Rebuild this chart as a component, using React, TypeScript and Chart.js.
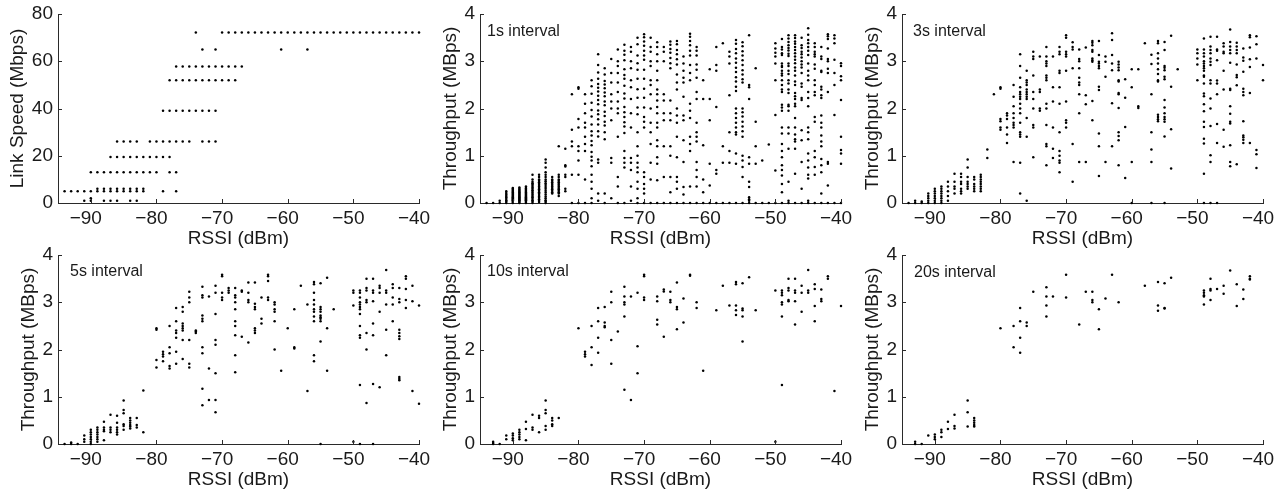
import React, { useEffect, useRef } from "react";
import { Chart, registerables } from "chart.js";

Chart.register(...registerables);

type Col = [number, number[]];

// ---------- tick labels ----------
const xTicks = [-90, -80, -70, -60, -50, -40];
const linkTicks = [0, 20, 40, 60, 80];
const tputTicks = [0, 1, 2, 3, 4];

// ---------- Link speed (Mbps): [rate, RSSI values] ----------
const linkSpeedRows: Col[] = [
  [72.2, [-74, -70, -69, -68, -67, -66, -65, -64, -63, -62, -61, -60, -59, -58, -57, -56, -55, -54, -53, -52, -51, -50, -49, -48, -47, -46, -45, -44, -43, -42, -41, -40]],
  [65, [-73, -71, -61, -57]],
  [57.8, [-77, -76, -75, -74, -73, -72, -71, -70, -69, -68, -67]],
  [52, [-78, -77, -76, -75, -74, -73, -72, -71, -70, -69, -68]],
  [39, [-79, -78, -77, -76, -75, -74, -73, -72, -71]],
  [26, [-86, -85, -84, -83, -81, -80, -79, -78, -77, -76, -75, -73, -72, -71]],
  [19.5, [-87, -86, -85, -84, -83, -82, -81, -80, -79, -78]],
  [13, [-90, -89, -88, -87, -86, -85, -84, -83, -82, -81, -80, -78, -77]],
  [6, [-89, -88, -87, -86, -85, -84, -83, -82]],
  [5, [-94, -93, -92, -91, -90, -89, -88, -87, -86, -85, -84, -83, -82, -79, -77]],
  [2, [-90]],
  [1, [-91, -90, -88, -87, -86, -84, -83]],
];

// ---------- Throughput (MBps), 1 s interval: [RSSI, values] ----------
const tput1s: Col[] = [
  [-94, [0]],
  [-93, [0]],
  [-92, [0, 0.05]],
  [-91, [0, 0.03, 0.06, 0.09, 0.12, 0.15, 0.18, 0.21, 0.25]],
  [-90, [0, 0.02, 0.04, 0.06, 0.08, 0.1, 0.12, 0.14, 0.16, 0.18, 0.2, 0.22, 0.24, 0.26, 0.28, 0.3, 0.32]],
  [-89, [0, 0.02, 0.04, 0.06, 0.08, 0.1, 0.12, 0.14, 0.16, 0.18, 0.2, 0.22, 0.24, 0.26, 0.28, 0.3, 0.33]],
  [-88, [0, 0.02, 0.04, 0.06, 0.08, 0.1, 0.12, 0.14, 0.16, 0.18, 0.2, 0.22, 0.24, 0.26, 0.28, 0.3, 0.32, 0.35]],
  [-87, [0, 0.03, 0.06, 0.09, 0.12, 0.15, 0.18, 0.21, 0.24, 0.27, 0.3, 0.33, 0.36, 0.39, 0.42, 0.45, 0.5, 0.6]],
  [-86, [0.02, 0.05, 0.08, 0.11, 0.14, 0.17, 0.2, 0.23, 0.26, 0.29, 0.32, 0.35, 0.38, 0.41, 0.44, 0.47, 0.5, 0.55, 0.6]],
  [-85, [0, 0.03, 0.06, 0.1, 0.14, 0.18, 0.22, 0.26, 0.3, 0.34, 0.38, 0.42, 0.46, 0.5, 0.55, 0.6, 0.65, 0.75, 0.85, 0.92]],
  [-84, [0.2, 0.23, 0.26, 0.29, 0.32, 0.35, 0.38, 0.41, 0.44, 0.47, 0.5, 0.55]],
  [-83, [0.15, 0.2, 0.23, 0.26, 0.29, 0.32, 0.35, 0.38, 0.41, 0.44, 0.47, 0.5, 0.55, 0.6, 1.2]],
  [-82, [1.15, 0.8, 0.77, 0.6, 0.55, 0.3, 0.25]],
  [-81, [2.3, 1.55, 1.3, 1.2, 0.6, 0]],
  [-80, [2.45, 2.42, 1.78, 1.6, 1.2, 1.1, 0.9, 0.6, 0]],
  [-79, [2.3, 2.1, 1.9, 1.7, 1.6, 1.4, 1.25, 1.1, 0.5, 0]],
  [-78, [2.6, 2.47, 2.31, 2.12, 1.97, 1.83, 1.66, 1.52, 1.43, 1.31, 1.22, 1.08, 0.98, 0.9, 0.78, 0.6, 0.45, 0.3, 0.1, 0]],
  [-77, [3.15, 2.92, 2.76, 2.63, 2.52, 2.44, 2.36, 2.27, 2.18, 2.09, 1.96, 1.88, 1.77, 1.66, 1.52, 1.41, 0.92, 0.85, 0.2, 0.05]],
  [-76, [2.85, 2.72, 2.58, 2.51, 2.43, 2.34, 2.26, 2.15, 2.07, 1.93, 1.84, 1.72, 1.64, 1.5, 1.35, 0.2, 0]],
  [-75, [3.05, 2.75, 2.55, 2.3, 2.15, 2.0, 1.75, 0.95, 0.85, 0.1]],
  [-74, [3.25, 3.0, 2.9, 2.75, 2.55, 2.35, 2.15, 2.0, 1.9, 1.4, 0.55, 0.35, 0]],
  [-73, [3.35, 3.22, 3.14, 3.02, 2.83, 2.71, 2.63, 2.48, 2.32, 2.21, 2.03, 1.92, 1.82, 1.71, 1.62, 1.48, 1.1, 0.95, 0.85, 0.75, 0]],
  [-72, [3.3, 3.2, 3.0, 2.85, 2.6, 2.45, 2.2, 1.9, 1.6, 0.95, 0.85, 0.7, 0.35, 0.05]],
  [-71, [3.5, 3.36, 3.12, 2.96, 2.82, 2.63, 2.41, 2.23, 2.02, 1.88, 1.5, 1.2, 1.0, 0.85, 0.75, 0.65, 0.45, 0.3, 0.1, 0]],
  [-70, [3.57, 3.51, 3.42, 3.33, 3.22, 3.12, 3.03, 2.82, 2.63, 2.42, 2.23, 2.02, 1.82, 1.72, 1.6, 0.65, 0.55, 0.4, 0.3, 0.2, 0]],
  [-69, [3.5, 3.3, 3.2, 3.0, 2.9, 2.6, 2.5, 2.3, 2.0, 1.7, 1.5, 1.25, 0.85, 0.5, 0]],
  [-68, [3.4, 3.3, 3.15, 3.0, 2.8, 2.6, 2.4, 2.3, 2.17, 2.03, 1.9, 1.7, 1.6, 1.33, 1.2, 0.97, 0.83, 0.48, 0]],
  [-67, [3.3, 3.2, 3.0, 2.3, 2.17, 1.9, 1.75, 1.2, 0.55, 0]],
  [-66, [3.42, 3.35, 3.26, 3.18, 3.07, 2.96, 2.85, 2.17, 1.9, 1.75, 1.2, 1.0, 0.55, 0.23, 0]],
  [-65, [3.43, 3.36, 3.24, 3.15, 3.04, 2.93, 2.72, 2.55, 2.4, 2.0, 1.85, 1.7, 1.4, 0.97, 0.55, 0.45, 0.3, 0]],
  [-64, [3.1, 2.95, 2.8, 2.65, 2.55, 2.25, 1.85, 1.75, 1.33, 0.87, 0.34, 0.18, 0]],
  [-63, [3.58, 3.52, 3.43, 3.34, 3.22, 3.12, 2.92, 2.75, 2.6, 2.1, 1.95, 1.8, 1.4, 1.25, 1.1, 0.35, 0]],
  [-62, [3.3, 3.22, 3.12, 2.93, 2.82, 2.65, 2.35, 2.2, 1.7, 1.5, 1.4, 1.3, 0.87, 0.7, 0.55, 0.35, 0]],
  [-61, [2.6, 2.2, 1.22, 0.5, 0.23, 0]],
  [-60, [2.83, 2.2, 1.75, 0.83, 0.37, 0]],
  [-59, [3.3, 2.92, 2.8, 2.03, 0.7, 0.62, 0]],
  [-58, [3.38, 1.2, 0.85, 0]],
  [-57, [3.2, 3.1, 2.95, 2.28, 1.5, 1.1, 0.85, 0]],
  [-56, [3.45, 3.37, 3.26, 3.17, 3.06, 2.97, 2.86, 2.77, 2.66, 2.57, 2.46, 2.37, 2.0, 1.9, 1.8, 1.7, 1.6, 1.5, 1.45, 1.05, 0.83, 0]],
  [-55, [3.4, 3.32, 3.21, 3.12, 3.02, 2.92, 2.81, 2.72, 2.62, 2.55, 2.0, 1.92, 1.83, 1.72, 1.62, 1.52, 1.4, 1.0, 0.9, 0.76, 0.55, 0]],
  [-54, [3.55, 2.5, 2.45, 2.2, 0.97, 0.83, 0.45, 0.34, 0.12, 0.08, 0.05, 0]],
  [-53, [2.85, 1.72, 1.2, 0.83, 0]],
  [-52, [0.9, 0]],
  [-51, [1.24, 0]],
  [-50, [3.38, 3.27, 3.18, 3.1, 2.95, 2.6, 1.86, 0.69, 0]],
  [-49, [3.47, 3.3, 3.25, 3.17, 3.13, 2.95, 2.9, 2.88, 2.8, 2.74, 2.7, 2.6, 2.5, 2.4, 2.35, 2.08, 2.02, 1.95, 1.6, 1.47, 1.25, 1.1, 0.97, 0.8, 0.7, 0.58, 0.4, 0.23, 0]],
  [-48, [3.55, 3.48, 3.41, 3.34, 3.28, 3.23, 3.16, 3.11, 2.95, 2.9, 2.8, 2.73, 2.6, 2.53, 2.4, 2.33, 2.08, 2.05, 1.95, 1.6, 1.47, 1.15, 0.45, 0.05, 0]],
  [-47, [3.55, 3.49, 3.42, 3.37, 3.3, 3.24, 3.17, 3.1, 3.03, 2.96, 2.87, 2.8, 2.7, 2.57, 2.5, 2.33, 2.26, 2.2, 2.1, 2.05, 1.8, 1.6, 1.45, 1.35, 1.3, 1.15, 0.62, 0]],
  [-46, [3.5, 3.34, 3.28, 3.2, 3.15, 3.08, 3.0, 2.93, 2.87, 2.75, 2.53, 2.46, 2.22, 2.18, 1.54, 1.33, 0.87, 0.3, 0]],
  [-45, [3.7, 3.56, 3.45, 3.38, 3.3, 3.22, 3.13, 2.95, 2.8, 2.7, 2.6, 2.35, 2.22, 2.05, 1.6, 1.5, 1.35, 1.05, 0.9, 0.75, 0.6, 0.52, 0.05, 0]],
  [-44, [3.38, 3.3, 3.2, 3.15, 3.1, 2.93, 2.84, 2.6, 2.5, 2.35, 2.28, 1.82, 1.72, 1.1, 0.97, 0.76, 0.6, 0]],
  [-43, [3.3, 3.1, 3.05, 2.8, 2.77, 2.46, 2.4, 2.28, 2.22, 1.85, 1.7, 1.6, 1.43, 1.3, 1.2, 0.93, 0.8, 0.65, 0.2, 0]],
  [-42, [3.57, 3.53, 3.47, 3.27, 3.05, 3.0, 2.84, 2.75, 2.35, 0.87, 0.83, 0.37, 0]],
  [-41, [3.55, 3.48, 3.38, 3.03, 2.75, 2.5, 1.86, 0]],
  [-40, [2.96, 2.9, 2.68, 2.6, 2.18, 1.4, 1.12, 1.05, 0.83, 0]],
];

// ---------- 3 s interval ----------
const tput3s: Col[] = [
  [-94, [0]],
  [-93, [0, 0.05]],
  [-92, [0, 0.03]],
  [-91, [0.2, 0.15, 0.1, 0.05, 0]],
  [-90, [0.3, 0.25, 0.2, 0.15, 0.1, 0.05, 0]],
  [-89, [0.35, 0.3, 0.25, 0.2, 0.15, 0.1, 0.05, 0]],
  [-88, [0.45, 0.35, 0.25, 0.15, 0.05]],
  [-87, [0.62, 0.45, 0.35, 0.3, 0.2]],
  [-86, [0.62, 0.55, 0.45, 0.4, 0.3, 0.25, 0.2]],
  [-85, [0.92, 0.75, 0.55, 0.45, 0.4, 0.35, 0.3]],
  [-84, [0.55, 0.5, 0.4, 0.35, 0.3, 0.25]],
  [-83, [0.6, 0.55, 0.5, 0.45, 0.4, 0.35, 0.3, 0.25]],
  [-82, [1.13, 0.95]],
  [-81, [2.3]],
  [-80, [2.45, 2.42, 1.78, 1.73, 1.6, 1.55]],
  [-79, [1.9, 1.85, 1.78, 1.6, 1.45, 1.27]],
  [-78, [2.5, 2.25, 2.05, 1.9, 1.8, 1.7, 1.65, 1.6, 0.87]],
  [-77, [3.15, 2.9, 2.65, 2.45, 2.35, 2.3, 2.25, 2.2, 2.1, 2.0, 1.9, 1.7, 1.5, 1.45, 1.4, 0.85, 0.2]],
  [-76, [2.8, 2.6, 2.55, 2.5, 2.4, 2.35, 2.3, 2.25, 2.2, 1.8, 1.4, 0.05]],
  [-75, [3.2, 3.1, 3.05, 2.7, 2.35, 2.2, 2.0, 1.65, 1.6, 0.97]],
  [-74, [3.1, 2.4, 2.35, 2.0, 1.95]],
  [-73, [3.3, 3.1, 3.0, 2.95, 2.9, 2.7, 2.65, 2.6, 2.1, 2.0, 1.65, 1.25, 1.2, 0.8]],
  [-72, [3.1, 2.45, 2.15, 1.6, 1.15, 0.95]],
  [-71, [3.3, 3.2, 3.15, 2.8, 2.75, 2.45, 2.1, 1.5, 1.1, 1.0, 0.9, 0.85, 0.65]],
  [-70, [3.55, 3.5, 3.2, 3.15, 3.1, 2.8, 2.15, 1.75, 1.7, 1.6]],
  [-69, [3.4, 3.3, 3.25, 2.85, 1.25, 0.45]],
  [-68, [3.25, 3.05, 3.0, 2.85, 2.65, 2.55, 2.5, 2.3, 1.9, 0.87]],
  [-67, [3.29, 2.28, 2.09, 0.87]],
  [-66, [3.43, 3.39, 3.34, 3.24, 3.2, 3.06, 3.02, 2.99, 2.16, 1.75]],
  [-65, [3.43, 3.13, 2.99, 2.95, 2.9, 2.85, 2.46, 2.39, 1.47, 1.2, 0.57]],
  [-64, [3.1, 2.99, 2.67, 0.87]],
  [-63, [3.59, 3.45, 3.13, 2.95, 2.81, 2.11, 1.2]],
  [-62, [2.99, 2.93, 2.87, 2.81, 2.6, 2.57, 2.33, 2.3, 2.01, 1.5, 1.42, 1.33, 0.8]],
  [-61, [2.62, 2.23, 1.61, 0.53]],
  [-60, [2.83, 2.45, 0.87, 0]],
  [-59, [2.83, 2.05, 2.01]],
  [-58, [3.38]],
  [-57, [3.14, 2.94, 2.3, 1.5, 1.13, 0.87, 0]],
  [-56, [3.43, 3.38, 3.17, 3.06, 2.95, 2.83, 2.73, 2.6, 2.57, 1.87, 1.82, 1.77, 1.73]],
  [-55, [3.41, 3.24, 2.9, 2.86, 2.81, 2.67, 2.62, 2.18, 2.02, 1.9, 1.82, 1.77, 1.72, 1.41, 0]],
  [-54, [3.54, 2.46, 1.56, 0.73]],
  [-53, [2.83]],
  [-50, [3.25, 3.17, 3.06, 2.93, 2.6]],
  [-49, [3.48, 3.25, 3.17, 3.1, 3.0, 2.95, 2.9, 2.85, 2.8, 2.7, 2.67, 2.53, 2.32, 2.26, 2.09, 1.94, 1.72, 1.61, 1.36, 1.26, 0.62, 0]],
  [-48, [3.52, 3.31, 3.24, 3.17, 3.06, 2.99, 2.92, 2.6, 2.53, 2.21, 2.0, 1.63, 1.01, 0.87, 0]],
  [-47, [3.52, 3.25, 3.22, 3.02, 2.59, 2.53, 2.3, 1.67, 1.27, 0]],
  [-46, [3.38, 3.31, 3.2, 3.17, 2.8, 2.4, 1.55, 1.19]],
  [-45, [3.67, 3.41, 3.31, 3.24, 3.17, 2.97, 2.42, 2.39, 2.05, 1.89, 1.72, 1.68, 1.22, 0.87, 0.78]],
  [-44, [3.39, 3.31, 3.24, 3.17, 2.93, 2.71, 2.66, 2.49, 0.82]],
  [-43, [3.27, 3.08, 3.01, 2.78, 2.42, 2.35, 2.28, 1.73, 1.43, 1.39, 1.34, 1.27]],
  [-42, [3.55, 3.51, 3.29, 3.04, 2.88, 2.33, 1.27]],
  [-41, [3.53, 3.36, 3.06, 1.12, 1.03, 0.74]],
  [-40, [2.92, 2.6]],
];

// ---------- 5 s interval ----------
const tput5s: Col[] = [
  [-94, [0]],
  [-93, [0.03, 0]],
  [-92, [0]],
  [-91, [0.18, 0.1, 0.05]],
  [-90, [0.3, 0.25, 0.2, 0.15, 0.1, 0.05, 0]],
  [-89, [0.35, 0.3, 0.25, 0.2, 0.15, 0.1, 0.05]],
  [-88, [0.47, 0.35, 0.3, 0.27, 0.08]],
  [-87, [0.62, 0.35, 0.3, 0.25]],
  [-86, [0.6, 0.45, 0.35, 0.3, 0.25, 0.2]],
  [-85, [0.92, 0.72, 0.65, 0.42, 0.38, 0.3]],
  [-84, [0.55, 0.5, 0.45, 0.4, 0.37, 0.33]],
  [-83, [0.55, 0.4, 0.35]],
  [-82, [1.13, 0.25]],
  [-80, [2.45, 2.42, 1.78, 1.62]],
  [-79, [1.95, 1.9, 1.85, 1.75]],
  [-78, [2.5, 2.05, 1.92, 1.65, 1.6]],
  [-77, [2.88, 2.6, 2.4, 2.35, 2.25, 1.95, 1.7]],
  [-76, [2.9, 2.8, 2.55, 2.5, 2.45, 2.4, 2.2, 1.8]],
  [-75, [3.22, 3.1, 3.0, 2.2, 1.7, 1.62]],
  [-74, [2.4, 2.38, 2.35]],
  [-73, [3.33, 3.15, 3.1, 2.72, 2.65, 2.6, 2.05, 1.92, 1.17, 0.82]],
  [-72, [3.12, 1.6, 0.93]],
  [-71, [3.35, 3.2, 2.75, 2.2, 2.1, 1.5, 0.93, 0.67]],
  [-70, [3.58, 3.55, 3.2, 3.1, 3.05]],
  [-69, [3.3, 3.25, 3.2]],
  [-68, [3.3, 3.15, 3.1, 3.0, 2.85, 2.6, 2.5, 2.3, 1.88, 1.52]],
  [-67, [3.25, 3.22, 2.27]],
  [-66, [3.42, 3.2, 3.05, 3.0, 2.15]],
  [-65, [3.42, 2.97, 2.9, 2.85, 2.45, 2.4, 2.35]],
  [-64, [3.1, 2.65, 2.55]],
  [-63, [3.58, 3.55, 3.45, 3.1, 3.05]],
  [-62, [3.0, 2.95, 2.85, 2.8, 2.6, 2.0]],
  [-61, [1.55]],
  [-60, [2.45]],
  [-59, [2.85, 2.05, 2.02]],
  [-58, [3.35]],
  [-57, [2.95, 1.12]],
  [-56, [3.43, 3.38, 3.2, 3.05, 2.95, 2.85, 2.8, 2.7, 2.6, 1.88, 1.75]],
  [-55, [3.4, 2.9, 2.85, 2.8, 2.72, 2.68, 2.65, 2.6, 2.17, 0]],
  [-54, [3.52, 2.45, 1.55]],
  [-53, [2.85]],
  [-50, [3.25, 3.2, 2.93, 0.05]],
  [-49, [3.25, 3.2, 3.1, 3.0, 2.95, 2.9, 2.85, 2.75, 2.5, 2.3, 2.25, 1.25, 0]],
  [-48, [3.5, 3.3, 3.25, 3.05, 3.0, 2.35, 2.0, 0.87]],
  [-47, [3.5, 3.25, 3.2, 3.02, 2.55, 2.3, 1.27, 0]],
  [-46, [3.35, 3.3, 3.2, 2.8, 1.2]],
  [-45, [3.68, 3.25, 3.2, 2.95, 2.42, 1.88]],
  [-44, [3.38, 3.3, 3.1, 2.95, 2.6]],
  [-43, [3.3, 3.07, 3.0, 2.42, 2.35, 2.28, 2.22, 1.42, 1.38, 1.35]],
  [-42, [3.55, 3.5, 3.28, 3.05, 2.88]],
  [-41, [3.35, 3.02, 1.12]],
  [-40, [2.93, 0.85]],
];

// ---------- 10 s interval ----------
const tput10s: Col[] = [
  [-93, [0.05, 0.02, 0]],
  [-92, [0]],
  [-91, [0.18, 0.1]],
  [-90, [0.22, 0.18, 0.12, 0.08]],
  [-89, [0.3, 0.25, 0.2, 0.15, 0.1]],
  [-88, [0.47, 0.32, 0.08]],
  [-87, [0.62, 0.35, 0.3]],
  [-86, [0.6, 0.55, 0.25]],
  [-85, [0.92, 0.72, 0.65, 0.38, 0.3]],
  [-84, [0.55, 0.5, 0.42, 0.38]],
  [-83, [0.55]],
  [-80, [2.45]],
  [-79, [1.95, 1.9, 1.85]],
  [-78, [2.5, 2.05, 1.67]],
  [-77, [2.88, 2.6, 2.25, 1.93]],
  [-76, [2.9, 2.57, 2.5, 2.47]],
  [-75, [3.22, 3.0, 2.2, 1.7]],
  [-74, [2.38]],
  [-73, [3.33, 3.12, 3.0, 2.95, 2.7, 1.15]],
  [-72, [3.12, 0.93]],
  [-71, [3.2, 2.07, 1.5]],
  [-70, [3.58, 3.55, 3.1, 3.05]],
  [-68, [3.12, 3.02, 2.63, 2.53]],
  [-67, [3.27, 3.23, 2.27]],
  [-66, [3.22, 3.05, 3.0]],
  [-65, [3.42, 2.9, 2.85, 2.43]],
  [-64, [3.08, 2.57]],
  [-63, [3.58, 3.56]],
  [-62, [3.0, 2.88]],
  [-61, [1.55]],
  [-59, [2.83]],
  [-58, [3.35]],
  [-57, [2.93]],
  [-56, [3.43, 3.38, 2.93, 2.83, 2.73]],
  [-55, [3.4, 2.87, 2.83, 2.7, 2.17]],
  [-54, [3.53]],
  [-53, [2.83]],
  [-50, [3.25, 0.05]],
  [-49, [3.25, 3.2, 3.15, 3.0, 2.95, 2.7, 1.25]],
  [-48, [3.5, 3.3, 3.25, 3.05, 3.02]],
  [-47, [3.5, 3.25, 3.2, 3.02, 2.53]],
  [-46, [3.35, 3.2, 2.8]],
  [-45, [3.68, 3.25, 3.2]],
  [-44, [3.38, 3.28, 2.92, 2.6]],
  [-43, [3.27, 3.07, 3.02]],
  [-42, [3.55, 3.5]],
  [-41, [1.12]],
  [-40, [2.92]],
];

// ---------- 20 s interval ----------
const tput20s: Col[] = [
  [-93, [0.05, 0]],
  [-92, [0]],
  [-91, [0.18]],
  [-90, [0.2, 0.15, 0.1]],
  [-89, [0.3, 0.25, 0.15]],
  [-88, [0.47, 0.32]],
  [-87, [0.62, 0.38, 0.33]],
  [-85, [0.92, 0.67, 0.37]],
  [-84, [0.55, 0.5, 0.45, 0.4, 0.37]],
  [-80, [2.45]],
  [-78, [2.5, 2.05]],
  [-77, [2.88, 2.6, 2.25, 1.93]],
  [-76, [2.57, 2.5]],
  [-75, [3.22]],
  [-73, [3.32, 3.12, 2.93, 2.7]],
  [-72, [3.12]],
  [-70, [3.58, 3.1]],
  [-68, [2.53]],
  [-67, [3.22]],
  [-66, [3.22, 3.05, 3.0]],
  [-65, [2.85, 2.43]],
  [-64, [3.08]],
  [-63, [3.58]],
  [-62, [3.0]],
  [-58, [3.35]],
  [-56, [3.43, 2.93, 2.82]],
  [-55, [3.4, 2.88, 2.87]],
  [-54, [3.52]],
  [-49, [3.25, 3.2, 3.15, 3.12, 2.95]],
  [-48, [3.5, 3.28, 3.25, 3.05]],
  [-47, [3.28]],
  [-46, [3.35, 3.18]],
  [-45, [3.67]],
  [-44, [3.38, 2.92]],
  [-43, [3.27, 3.07]],
  [-42, [3.55, 3.5, 3.48]],
];

// ---------- styling ----------
const FONT = "'Liberation Sans', Arial, Helvetica, sans-serif";
const TEXT = "#1a1a1a";
const AXIS = "#2a2a2a";

const fromCols = (cols: Col[]) => cols.flatMap(([x, ys]) => ys.map((y) => ({ x, y })));
const fromRows = (rows: Col[]) => rows.flatMap(([y, xs]) => xs.map((x) => ({ x, y })));
const fmt = (v: number) => (v < 0 ? "\u2212" + Math.abs(v) : String(v));

type PanelCfg = {
  left: number;
  top: number;
  points: { x: number; y: number }[];
  yMax: number;
  yTicks: number[];
  yTitle: string;
  yTitlePad: number;
  label?: string;
  labelDx?: number;
  labelDy?: number;
};

const panels: PanelCfg[] = [
  { left: 0, top: 0, points: fromRows(linkSpeedRows), yMax: 80, yTicks: linkTicks, yTitle: "Link Speed (Mbps)", yTitlePad: 6 },
  { left: 422, top: 0, points: fromCols(tput1s), yMax: 4, yTicks: tputTicks, yTitle: "Throughput (MBps)", yTitlePad: 17, label: "1s interval", labelDx: 7, labelDy: 18 },
  { left: 843.5, top: 0, points: fromCols(tput3s), yMax: 4, yTicks: tputTicks, yTitle: "Throughput (MBps)", yTitlePad: 17, label: "3s interval", labelDx: 11, labelDy: 18 },
  { left: 0, top: 241, points: fromCols(tput5s), yMax: 4, yTicks: tputTicks, yTitle: "Throughput (MBps)", yTitlePad: 17, label: "5s interval", labelDx: 12, labelDy: 17 },
  { left: 422, top: 241, points: fromCols(tput10s), yMax: 4, yTicks: tputTicks, yTitle: "Throughput (MBps)", yTitlePad: 17, label: "10s interval", labelDx: 7, labelDy: 17 },
  { left: 843.5, top: 241, points: fromCols(tput20s), yMax: 4, yTicks: tputTicks, yTitle: "Throughput (MBps)", yTitlePad: 17, label: "20s interval", labelDx: 12, labelDy: 18 },
];

const CW = 445;
const CH = 253;

const decorPlugin = {
  id: "decor",
  afterDraw(chart: any, _args: any, opts: any) {
    const { ctx, chartArea, scales } = chart;
    const xs = scales.x;
    const ys = scales.y;
    ctx.save();
    ctx.strokeStyle = AXIS;
    ctx.lineWidth = 1;
    ctx.beginPath();
    for (const t of xs.ticks) {
      const px = Math.round(xs.getPixelForValue(t.value)) + 0.5;
      ctx.moveTo(px, chartArea.bottom);
      ctx.lineTo(px, chartArea.bottom - 4);
    }
    for (const t of ys.ticks) {
      const py = Math.round(ys.getPixelForValue(t.value)) + 0.5;
      ctx.moveTo(chartArea.left, py);
      ctx.lineTo(chartArea.left + 4, py);
    }
    ctx.stroke();
    if (opts && opts.text) {
      ctx.fillStyle = TEXT;
      ctx.font = `16px ${FONT}`;
      ctx.textBaseline = "middle";
      ctx.textAlign = "left";
      ctx.fillText(opts.text, chartArea.left + opts.dx, chartArea.top + opts.dy);
    }
    ctx.restore();
  },
};

function Panel({ cfg }: { cfg: PanelCfg }) {
  const ref = useRef<HTMLCanvasElement>(null);
  useEffect(() => {
    const font = { family: FONT, size: 19 };
    const chart = new Chart(ref.current as HTMLCanvasElement, {
      type: "scatter",
      data: {
        datasets: [
          {
            data: cfg.points,
            pointRadius: 1.25,
            pointHoverRadius: 1.25,
            pointBackgroundColor: "#000",
            pointBorderWidth: 0,
            borderWidth: 0,
            clip: false,
          } as any,
        ],
      },
      options: {
        animation: false,
        responsive: false,
        events: [],
        layout: { padding: { left: 0, top: 14, right: 26, bottom: 0 } },
        plugins: {
          legend: { display: false },
          tooltip: { enabled: false },
          decor: { text: cfg.label, dx: cfg.labelDx, dy: cfg.labelDy },
        } as any,
        scales: {
          x: {
            type: "linear",
            min: -95,
            max: -40,
            afterBuildTicks: (s: any) => {
              s.ticks = xTicks.map((v) => ({ value: v }));
            },
            afterFit: (s: any) => {
              s.height = CH - 203;
              s.paddingLeft = 0;
              s.paddingRight = 0;
            },
            ticks: {
              autoSkip: false,
              maxRotation: 0,
              padding: 4,
              labelOffset: -5,
              color: TEXT,
              font,
              callback: (v: any) => fmt(Number(v)),
            },
            grid: { display: false, drawTicks: false },
            border: { display: true, color: AXIS, width: 1 },
            title: { display: true, text: "RSSI (dBm)", color: TEXT, font, padding: { top: 0, bottom: 3 } },
          },
          y: {
            type: "linear",
            min: 0,
            max: cfg.yMax,
            afterBuildTicks: (s: any) => {
              s.ticks = cfg.yTicks.map((v) => ({ value: v }));
            },
            afterFit: (s: any) => {
              s.width = 58;
              s.paddingTop = 0;
              s.paddingBottom = 0;
            },
            ticks: {
              autoSkip: false,
              padding: 5,
              color: TEXT,
              font,
              callback: (v: any) => fmt(Number(v)),
            },
            grid: { display: false, drawTicks: false },
            border: { display: true, color: AXIS, width: 1 },
            title: { display: true, text: cfg.yTitle, color: TEXT, font, padding: { top: cfg.yTitlePad, bottom: 0 } },
          },
        },
      } as any,
      plugins: [decorPlugin as any],
    });
    return () => chart.destroy();
  }, [cfg]);
  return (
    <canvas
      ref={ref}
      width={CW}
      height={CH}
      style={{ position: "absolute", left: cfg.left, top: cfg.top, width: CW, height: CH, display: "block" }}
    />
  );
}

export default function App() {
  return (
    <div style={{ position: "fixed", left: 0, top: 0, width: 1286, height: 494, background: "#fff", overflow: "hidden" }}>
      {panels.map((p, i) => (
        <Panel key={i} cfg={p} />
      ))}
    </div>
  );
}
